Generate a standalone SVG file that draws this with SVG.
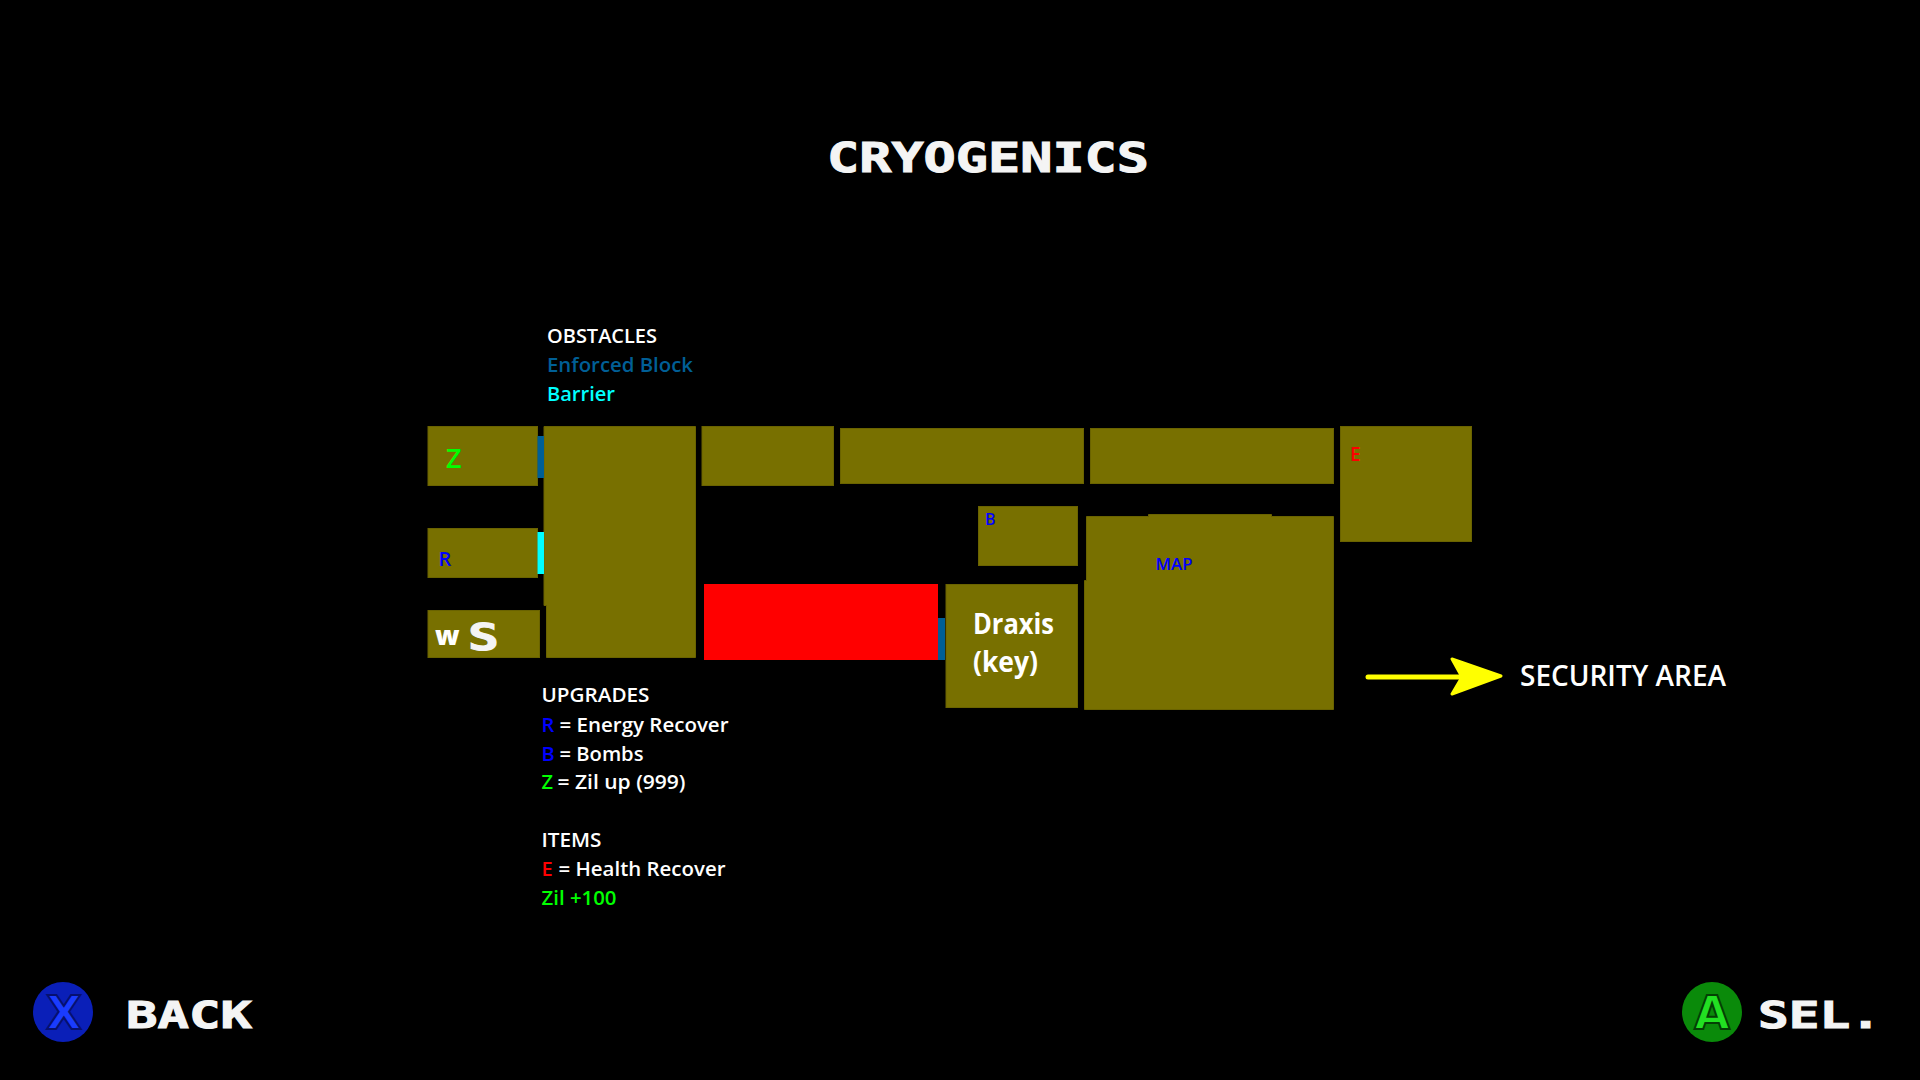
<svg xmlns="http://www.w3.org/2000/svg" width="1920" height="1080" viewBox="0 0 1920 1080">
<defs><style>
.room{fill:#787000;stroke:#6a6300;stroke-width:1}
.t{font-family:"Open Sans","Noto Sans",sans-serif;font-weight:600;font-size:20px;fill:#fff}
.big{font-size:28px;font-weight:700}
.lbl{font-family:"Open Sans","Noto Sans",sans-serif;font-weight:600}
.pix{font-family:"DejaVu Sans Mono",monospace;font-weight:700;fill:#f4f4f4;stroke:#f4f4f4;stroke-width:1}
.w{fill:#fff}.bl{fill:#0000ff}.gr{fill:#00ff00}.rd{fill:#ff0000}.cy{fill:#00ffff}.eb{fill:#005f96}
</style></defs>
<rect width="1920" height="1080" fill="#000"/>
<text class="pix" x="827" y="172" font-size="40" textLength="322" lengthAdjust="spacingAndGlyphs">CRYOGENICS</text>
<g id="legend-obstacles">
<text class="t" x="547" y="342.500" textLength="110" lengthAdjust="spacingAndGlyphs">OBSTACLES</text>
<text class="t eb" x="547" y="372" textLength="146" lengthAdjust="spacingAndGlyphs">Enforced Block</text>
<text class="t cy" x="547" y="401" textLength="68" lengthAdjust="spacingAndGlyphs">Barrier</text>
</g>
<g id="room-z"><rect class="room" x="428" y="426.500" width="109.500" height="59"/><text class="lbl gr" x="446" y="468" font-size="27">Z</text></g>
<g id="room-hall"><path class="room" d="M544 426.500H695.500V657.500H546.500V605.500H544Z"/></g>
<g id="room-3"><rect class="room" x="702" y="426.500" width="131.500" height="59"/></g>
<g id="room-4"><rect class="room" x="840.500" y="428.500" width="243" height="55"/></g>
<g id="room-5"><rect class="room" x="1090.500" y="428.500" width="243" height="55"/></g>
<g id="room-e"><rect class="room" x="1340.500" y="426.500" width="131" height="115"/><text class="lbl rd" x="1350" y="461" font-size="19">E</text></g>
<g id="room-r"><rect class="room" x="428" y="528.500" width="109.500" height="49"/><text class="lbl bl" x="438.500" y="566" font-size="20">R</text></g>
<g id="room-ws"><rect class="room" x="428" y="610.500" width="111.500" height="47"/><text x="435" y="645" font-family="Open Sans,sans-serif" font-weight="800" font-size="27" class="w">w</text><text class="pix" x="468" y="650" font-size="38" textLength="31" lengthAdjust="spacingAndGlyphs">S</text></g>
<g id="room-red"><rect x="704" y="584" width="234" height="76" fill="#ff0000"/></g>
<g id="room-b"><rect class="room" x="978.500" y="506.500" width="99" height="59"/><text class="lbl bl" x="985" y="524.500" font-size="16">B</text></g>
<g id="room-draxis"><rect class="room" x="946" y="584.500" width="131.500" height="123"/>
<text class="t big" x="973" y="634" textLength="81" lengthAdjust="spacingAndGlyphs">Draxis</text><text class="t big" x="973" y="672" textLength="65" lengthAdjust="spacingAndGlyphs">(key)</text></g>
<g id="room-map"><path class="room" d="M1086.500 516.500H1148.500V514.500H1271.500V516.500H1333.500V709.500H1084.500V580.500H1086.500Z"/><text class="lbl bl" x="1155.500" y="569.500" font-size="16" textLength="37" lengthAdjust="spacingAndGlyphs">MAP</text></g>
<g id="connectors">
<rect x="537.500" y="436" width="6.500" height="42" fill="#005f96"/>
<rect x="537.500" y="532" width="6.500" height="42" fill="#00ffff"/>
<rect x="938" y="618" width="7" height="42" fill="#005f96"/>
<path d="M1368 677H1465" stroke="#ffff00" stroke-width="5" stroke-linecap="round" fill="none"/>
<path d="M1452 659L1501 676L1452 694L1462 677Z" fill="#ffff00" stroke="#ffff00" stroke-width="3" stroke-linejoin="round"/>
</g>
<text class="t" x="1520" y="686" style="font-size:28px" textLength="206" lengthAdjust="spacingAndGlyphs">SECURITY AREA</text>
<g id="legend-upgrades">
<text class="t" x="541.500" y="702" textLength="108" lengthAdjust="spacingAndGlyphs">UPGRADES</text>
<text class="t bl" x="541.500" y="732">R</text><text class="t" x="559.500" y="732" textLength="169" lengthAdjust="spacingAndGlyphs">= Energy Recover</text>
<text class="t bl" x="541.500" y="761">B</text><text class="t" x="559.500" y="761" textLength="84" lengthAdjust="spacingAndGlyphs">= Bombs</text>
<text class="t gr" x="541.500" y="788.500">Z</text><text class="t" x="557.500" y="788.500" textLength="128" lengthAdjust="spacingAndGlyphs">= Zil up (999)</text>
<text class="t" x="541.500" y="846.500" textLength="60" lengthAdjust="spacingAndGlyphs">ITEMS</text>
<text class="t rd" x="541.500" y="875.500">E</text><text class="t" x="558.500" y="875.500" textLength="167" lengthAdjust="spacingAndGlyphs">= Health Recover</text>
<text class="t gr" x="541.500" y="904.500" textLength="75" lengthAdjust="spacingAndGlyphs">Zil +100</text>
</g>
<g id="btn-back"><circle cx="63" cy="1012" r="30" fill="#0a1fb8"/><text x="64" y="1029" text-anchor="middle" font-family="DejaVu Sans,sans-serif" font-weight="700" font-size="46" fill="#1a3cff" stroke="#061070" stroke-width="2">X</text>
<text class="pix" x="126" y="1028" font-size="38" textLength="126" lengthAdjust="spacingAndGlyphs">BACK</text></g>
<g id="btn-sel"><circle cx="1712" cy="1012" r="30" fill="#0a8a0a"/><text x="1712" y="1029" text-anchor="middle" font-family="DejaVu Sans,sans-serif" font-weight="700" font-size="46" fill="#22e022" stroke="#044004" stroke-width="2">A</text>
<text class="pix" x="1758" y="1028" font-size="38" textLength="123" lengthAdjust="spacingAndGlyphs">SEL.</text></g>
</svg>
